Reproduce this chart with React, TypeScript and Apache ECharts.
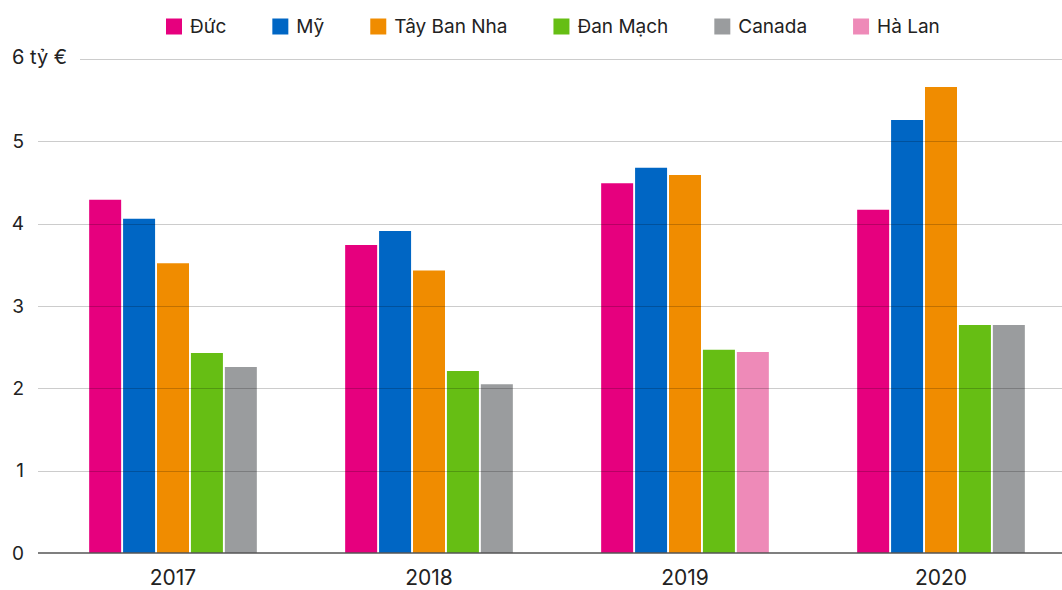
import React, { useEffect, useRef } from "react";
import * as echarts from "echarts";

const years = ["2017", "2018", "2019", "2020"];
const duc = [4.29, 3.74, 4.49, 4.17];
const my = [4.06, 3.91, 4.68, 5.26];
const tayBanNha = [3.52, 3.43, 4.59, 5.66];
const danMach = [2.43, 2.21, 2.47, 2.77];
const canada = [2.26, 2.05, null, 2.77];
const haLan = [null, null, 2.44, null];
const yTicks = [0, 1, 2, 3, 4, 5, 6];

const FONT = "Inter, Roboto, 'Liberation Sans', sans-serif";

export default function App() {
  const ref = useRef<HTMLDivElement>(null);
  useEffect(() => {
    const chart = echarts.init(ref.current!, null, { renderer: "svg" });
    const mk = (name: string, data: any[], color: string, stack?: string) => ({
      name,
      type: "bar",
      data,
      stack,
      barWidth: 32,
      barGap: "6%",
      itemStyle: { color },
      z: 2,
    });
    chart.setOption({
      animation: false,
      textStyle: { fontFamily: FONT },
      legend: {
        top: 12,
        left: 161,
        itemWidth: 16,
        itemHeight: 16,
        itemGap: 46,
        icon: "rect",
        textStyle: { fontSize: 19, color: "#222", fontFamily: FONT, padding: [0, 0, 0, 3] },
        data: ["Đức", "Mỹ", "Tây Ban Nha", "Đan Mạch", "Canada", "Hà Lan"],
      },
      grid: { left: 45, top: 59, right: 0, bottom: 37, containLabel: false },
      xAxis: {
        type: "category",
        data: years,
        axisTick: { show: false },
        axisLine: { show: false },
        axisLabel: { fontSize: 21, color: "#222", margin: 14, fontFamily: FONT },
      },
      yAxis: {
        type: "value",
        min: yTicks[0],
        max: yTicks[yTicks.length - 1],
        interval: 1,
        axisLine: { show: false },
        axisTick: { show: false },
        axisLabel: {
          fontSize: 19,
          color: "#222",
          margin: 21,
          fontFamily: FONT,
          formatter: (v: number) => (v === 6 ? "" : String(v)),
        },
        splitLine: { show: false },
      },
      series: [
        mk("Đức", duc, "#E6007E"),
        mk("Mỹ", my, "#0066C4"),
        mk("Tây Ban Nha", tayBanNha, "#F08C00"),
        mk("Đan Mạch", danMach, "#66BE14"),
        mk("Canada", canada, "#9A9C9E", "last"),
        mk("Hà Lan", haLan, "#EE8AB8", "last"),
      ],
    });
    const yPix = (v: number) => Math.round(chart.convertToPixel({ yAxisIndex: 0 }, v) as number);
    const y0 = yPix(0);
    const y6 = yPix(6);
    chart.setOption({
      graphic: [
        ...yTicks.slice(1).map((v) => ({
          type: "line",
          z: 100,
          shape: {
            x1: v === 6 ? 80 : 38,
            y1: yPix(v) + 0.5,
            x2: 1069,
            y2: yPix(v) + 0.5,
          },
          style: { stroke: "rgba(0,0,0,0.2)", lineWidth: 1 },
        })),
        {
          type: "line",
          z: 100,
          shape: { x1: 38, y1: y0, x2: 1069, y2: y0 },
          style: { stroke: "#555", lineWidth: 1.5 },
        },
        {
          type: "text",
          z: 101,
          left: 12,
          top: y6 - 12,
          style: { text: "6 tỷ €", fontSize: 20, fill: "#222", fontFamily: FONT },
        },
      ],
    });
    return () => chart.dispose();
  }, []);
  return (
    <div style={{ position: "absolute", left: 0, top: 0, width: 1062, height: 590, overflow: "hidden", background: "#fff" }}>
      <div ref={ref} style={{ width: 1069, height: 590 }} />
    </div>
  );
}
